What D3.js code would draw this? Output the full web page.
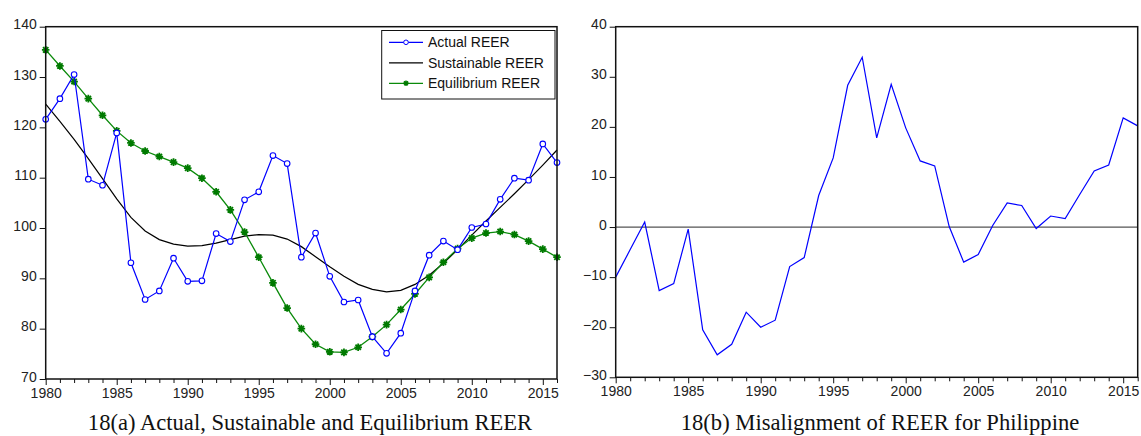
<!DOCTYPE html>
<html>
<head>
<meta charset="utf-8">
<script src="https://cdn.jsdelivr.net/npm/d3@7/dist/d3.min.js"></script>
<style>
  html, body { margin: 0; padding: 0; background: #fff; }
  svg { display: block; }
  .tick text { font-family: "Liberation Sans", Arial, sans-serif; font-size: 14px; fill: #222; }
  .caption { font-family: "Liberation Serif", "Times New Roman", serif; font-size: 22.6px; fill: #111; }
  .legend text { font-family: "Liberation Sans", Arial, sans-serif; font-size: 14px; fill: #111; }
</style>
</head>
<body>
<svg id="chart" width="1141" height="436"></svg>
<script>
// Years 1980–2016
const years = d3.range(1980, 2017);

// Panel (a): real effective exchange rate series
const actualReer = [
  121.6, 125.7, 130.5, 109.7, 108.5, 118.9, 93.1, 85.8, 87.5, 94.0,
  89.4, 89.5, 98.9, 97.3, 105.6, 107.2, 114.4, 112.8, 94.2, 99.0,
  90.4, 85.3, 85.7, 78.4, 75.1, 79.1, 87.5, 94.6, 97.4, 95.7,
  100.1, 100.8, 105.7, 109.9, 109.5, 116.7, 113.0
];
const sustainableReer = [
  124.6, 121.2, 117.6, 113.8, 109.8, 105.8, 102.1, 99.4, 97.7, 96.8,
  96.4, 96.5, 97.0, 97.7, 98.4, 98.7, 98.6, 97.8, 96.3, 94.3,
  92.3, 90.4, 88.8, 87.8, 87.3, 87.6, 88.8, 90.6, 93.0, 95.7,
  98.6, 101.4, 104.1, 106.8, 109.6, 112.5, 115.5
];
const equilibriumReer = [
  135.4, 132.2, 129.1, 125.7, 122.4, 119.3, 116.9, 115.3, 114.2, 113.1,
  111.9, 109.9, 107.2, 103.6, 99.2, 94.2, 89.1, 84.1, 80.0, 76.9,
  75.4, 75.3, 76.3, 78.4, 80.8, 83.8, 86.9, 90.2, 93.2, 95.9,
  98.0, 99.0, 99.3, 98.7, 97.4, 95.8, 94.2
];

// Panel (b): misalignment, percent
const misalignment = [
  -10.0, -4.5, 1.0, -12.7, -11.3, -0.4, -20.5, -25.5, -23.4, -17.0,
  -20.0, -18.6, -7.9, -6.1, 6.3, 13.8, 28.3, 33.9, 17.8, 28.5,
  19.8, 13.2, 12.2, 0.1, -7.0, -5.5, 0.3, 4.8, 4.3, -0.3,
  2.2, 1.7, 6.5, 11.2, 12.4, 21.8, 20.2
];

const yTicksA = [70, 80, 90, 100, 110, 120, 130, 140];
const yTicksB = [-30, -20, -10, 0, 10, 20, 30, 40];
const xLabelYears = [1980, 1985, 1990, 1995, 2000, 2005, 2010, 2015];

const captionA = "18(a) Actual, Sustainable and Equilibrium REER";
const captionB = "18(b) Misalignment of REER for Philippine";

const legendItems = [
  { name: "Actual REER", color: "#0000ff", marker: "circle" },
  { name: "Sustainable REER", color: "#000000", marker: null },
  { name: "Equilibrium REER", color: "#0a8a0a", marker: "star" }
];

const svg = d3.select("#chart");

function drawFrame(g, x, y, yTicks) {
  const [x0, x1] = x.range();
  const [y0, y1] = y.range();

  // x axis: a tick at every year, labels every five years
  const xAxis = d3.axisBottom(x)
    .tickValues(years)
    .tickSizeOuter(0)
    .tickFormat(d => xLabelYears.includes(d) ? String(d) : "");
  const gx = g.append("g").attr("transform", `translate(0,${y0})`).call(xAxis);
  gx.select(".domain").remove();
  gx.selectAll(".tick line")
    .attr("stroke", "#111")
    .attr("stroke-width", 1)
    .attr("y2", d => d % 5 === 0 ? 6 : 4);
  gx.selectAll(".tick text").attr("y", 9);

  const yAxis = d3.axisLeft(y).tickValues(yTicks).tickSizeOuter(0).tickSize(6);
  const gy = g.append("g").attr("transform", `translate(${x0},0)`).call(yAxis);
  gy.select(".domain").remove();
  gy.selectAll(".tick line").attr("stroke", "#111").attr("stroke-width", 1);
  gy.selectAll(".tick text").attr("x", -9).attr("dy", "0.15em");

  g.append("rect")
    .attr("x", x0).attr("y", y1)
    .attr("width", x1 - x0).attr("height", y0 - y1)
    .attr("fill", "none")
    .attr("stroke", "#111")
    .attr("stroke-width", 1.5);
}

function starPath(r) {
  // eight-armed asterisk
  let p = "";
  for (let i = 0; i < 4; i++) {
    const a = i * Math.PI / 4;
    const dx = r * Math.cos(a), dy = r * Math.sin(a);
    p += `M${-dx},${-dy}L${dx},${dy}`;
  }
  return p;
}

// ---------- Panel (a) ----------
const xA = d3.scaleLinear().domain([1980, 2016]).range([45.7, 557]);
const yA = d3.scaleLinear().domain([70, 140]).range([379, 26.7]);
const gA = svg.append("g");

const lineA = data => d3.line()
  .x((d, i) => xA(years[i]))
  .y(d => yA(d))(data);

gA.append("path").attr("d", lineA(sustainableReer))
  .attr("fill", "none").attr("stroke", "#000").attr("stroke-width", 1.2);

gA.append("path").attr("d", lineA(equilibriumReer))
  .attr("fill", "none").attr("stroke", "#0a8a0a").attr("stroke-width", 1.3);
gA.selectAll(".eq-mark").data(equilibriumReer).join("path")
  .attr("class", "eq-mark")
  .attr("transform", (d, i) => `translate(${xA(years[i])},${yA(d)})`)
  .attr("d", starPath(3.8))
  .attr("stroke", "#007a00").attr("stroke-width", 1.8).attr("fill", "none");

gA.append("path").attr("d", lineA(actualReer))
  .attr("fill", "none").attr("stroke", "#0000ff").attr("stroke-width", 1.2);
gA.selectAll(".act-mark").data(actualReer).join("circle")
  .attr("class", "act-mark")
  .attr("cx", (d, i) => xA(years[i]))
  .attr("cy", d => yA(d))
  .attr("r", 2.8)
  .attr("fill", "#fff").attr("stroke", "#0000ff").attr("stroke-width", 1.1);

drawFrame(gA, xA, yA, yTicksA);

// legend
const lg = gA.append("g").attr("class", "legend");
lg.append("rect")
  .attr("x", 381.7).attr("y", 30.5).attr("width", 173.3).attr("height", 68.5)
  .attr("fill", "#fff").attr("stroke", "#111").attr("stroke-width", 1);
legendItems.forEach((item, i) => {
  const cy = 42.3 + i * 20.5;
  lg.append("line")
    .attr("x1", 389).attr("x2", 423).attr("y1", cy).attr("y2", cy)
    .attr("stroke", item.color).attr("stroke-width", 1.3);
  if (item.marker === "circle") {
    lg.append("circle").attr("cx", 406).attr("cy", cy).attr("r", 2.3)
      .attr("fill", "#fff").attr("stroke", item.color).attr("stroke-width", 1);
  } else if (item.marker === "star") {
    lg.append("path").attr("transform", `translate(406,${cy})`)
      .attr("d", starPath(2.8)).attr("stroke", "#007a00").attr("stroke-width", 1.4);
  }
  lg.append("text").attr("x", 428).attr("y", cy).attr("dy", "0.36em").text(item.name);
});

svg.append("text").attr("class", "caption")
  .attr("x", 310).attr("y", 430).attr("text-anchor", "middle").text(captionA);

// ---------- Panel (b) ----------
const xB = d3.scaleLinear().domain([1980, 2016]).range([615.7, 1137.7]);
const yB = d3.scaleLinear().domain([-30, 40]).range([377.3, 26.7]);
const gB = svg.append("g");

gB.append("line")
  .attr("x1", xB(1980)).attr("x2", xB(2016))
  .attr("y1", yB(0)).attr("y2", yB(0))
  .attr("stroke", "#555").attr("stroke-width", 1.2);

gB.append("path")
  .attr("d", d3.line().x((d, i) => xB(years[i])).y(d => yB(d))(misalignment))
  .attr("fill", "none").attr("stroke", "#0000ff").attr("stroke-width", 1.2);

drawFrame(gB, xB, yB, yTicksB);

svg.append("text").attr("class", "caption")
  .attr("x", 880).attr("y", 430).attr("text-anchor", "middle").text(captionB);
</script>
</body>
</html>
